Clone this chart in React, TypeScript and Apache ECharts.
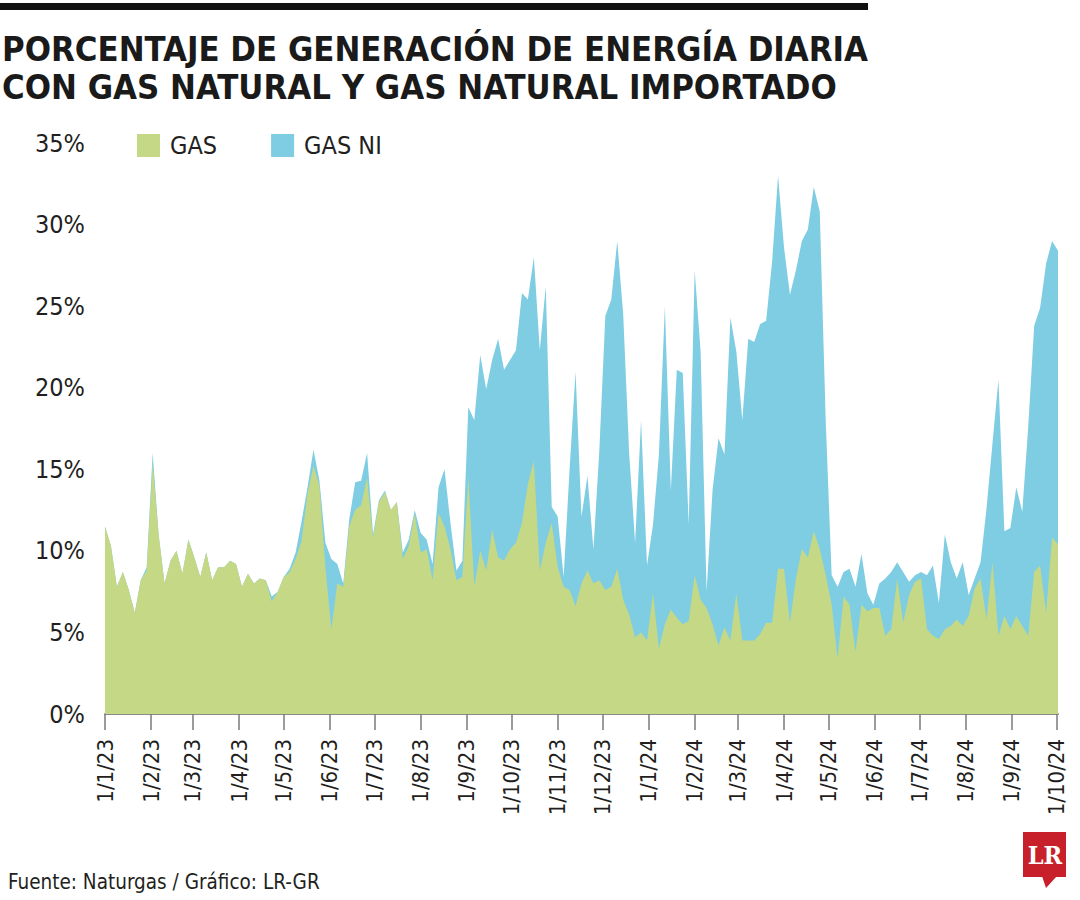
import React, { useEffect, useRef } from "react";
import * as echarts from "echarts";

// Sampling grid: every 4 days from 1 Jan 2023 (x = days since start)
const START = new Date(2023, 0, 1).getTime();
const DAY = 86400000;
const STEP_DAYS = 4;
const LAST_DAY = 640;

// % of daily generation with natural gas (domestic)
const GAS = [
  11.5, 10.3, 7.8, 8.7, 7.6, 6.2, 8.2, 8.8, 15.4, 11.0,
  8.0, 9.4, 10.0, 8.6, 10.7, 9.6, 8.4, 9.9, 8.2, 9.0,
  9.0, 9.4, 9.2, 7.8, 8.6, 8.0, 8.3, 8.2, 6.9, 7.5,
  8.4, 8.7, 9.5, 10.6, 13.5, 15.2, 14.0, 9.0, 5.2, 8.0,
  7.8, 11.5, 12.5, 12.8, 14.5, 10.8, 13.0, 13.6, 12.5, 13.0,
  9.5, 10.3, 12.3, 9.9, 10.1, 8.2, 12.3, 11.5, 10.1, 8.2,
  8.4, 14.5, 7.8, 10.0, 8.8, 11.3, 9.6, 9.4, 10.1, 10.5,
  11.7, 14.1, 15.5, 8.8, 10.5, 11.7, 9.0, 7.8, 7.6, 6.6,
  8.0, 8.8, 8.0, 8.2, 7.6, 7.8, 8.9, 7.0, 6.1, 4.7,
  5.0, 4.5, 7.4, 4.0, 5.5, 6.4, 5.9, 5.5, 5.7, 8.5,
  7.0, 6.5, 5.5, 4.2, 5.3, 4.5, 7.4, 4.5, 4.5, 4.5,
  4.9, 5.6, 5.6, 8.9, 8.9, 5.6, 8.3, 10.1, 9.6, 11.2,
  10.1, 8.5, 6.7, 3.4, 7.2, 6.7, 3.8, 6.7, 6.3, 6.5,
  6.5, 4.8, 5.2, 8.3, 5.6, 7.3, 8.1, 8.3, 5.2, 4.8,
  4.6, 5.2, 5.4, 5.8, 5.4, 6.0, 7.7, 8.3, 5.8, 9.3,
  4.8, 6.0, 5.2, 6.0, 5.4, 4.8, 8.7, 9.1, 6.2, 10.8,
  10.4,
];

// % of daily generation with imported natural gas (stacked on top of GAS)
const GAS_NI = [
  0, 0, 0, 0, 0, 0, 0, 0.2, 0.6, 0,
  0, 0, 0, 0, 0, 0, 0, 0, 0, 0,
  0, 0, 0, 0, 0, 0, 0, 0, 0.3, 0,
  0, 0.2, 0.4, 1.2, 0.4, 1.0, 0.3, 1.5, 4.3, 1.2,
  0.2, 0.4, 1.7, 1.5, 1.5, 0.2, 0.1, 0.1, 0, 0,
  0.4, 0.4, 0.2, 1.2, 0.6, 1.0, 1.6, 3.5, 1.6, 0.6,
  1.0, 4.3, 10.2, 12.0, 11.1, 10.4, 13.4, 11.7, 11.6, 11.8,
  14.1, 11.3, 12.5, 13.5, 15.7, 1.0, 3.1, 0.6, 7.4, 14.4,
  4.1, 5.8, 2.1, 8.0, 16.8, 17.6, 20.1, 17.5, 9.9, 5.8,
  13.0, 4.6, 4.2, 11.9, 19.5, 7.3, 15.2, 15.4, 5.9, 18.7,
  15.2, 1.0, 8.2, 12.7, 10.6, 19.8, 14.8, 13.5, 18.5, 18.3,
  19.0, 18.5, 22.1, 24.1, 19.7, 20.1, 18.9, 18.9, 20.1, 21.1,
  20.7, 9.5, 1.8, 4.4, 1.5, 2.2, 4.0, 3.1, 1.1, 0.2,
  1.5, 3.5, 3.5, 1.0, 3.1, 0.8, 0.4, 0.4, 3.3, 4.3,
  2.2, 5.8, 3.9, 2.5, 3.9, 1.3, 0.6, 1.0, 6.8, 7.3,
  15.7, 5.2, 6.2, 7.9, 7.0, 12.8, 15.1, 15.8, 21.4, 18.2,
  18.0,
];

const MONTH_TICKS = [
  "2023-01-01", "2023-02-01", "2023-03-01", "2023-04-01", "2023-05-01", "2023-06-01",
  "2023-07-01", "2023-08-01", "2023-09-01", "2023-10-01", "2023-11-01", "2023-12-01",
  "2024-01-01", "2024-02-01", "2024-03-01", "2024-04-01", "2024-05-01", "2024-06-01",
  "2024-07-01", "2024-08-01", "2024-09-01", "2024-10-01",
];

const Y_TICKS = [0, 5, 10, 15, 20, 25, 30, 35];

const TITLE = "PORCENTAJE DE GENERACIÓN DE ENERGÍA DIARIA\nCON GAS NATURAL Y GAS NATURAL IMPORTADO";
const SOURCE = "Fuente: Naturgas / Gráfico: LR-GR";
const SERIES_NAMES = ["GAS", "GAS NI"];

const GREEN = "#c5d886";
const BLUE = "#7ecde3";
const NARROW = "'Liberation Sans Narrow', 'DejaVu Sans Condensed', 'Roboto', sans-serif";

function dayIndex(s: string) {
  const [y, m, d] = s.split("-").map(Number);
  return Math.round((new Date(y, m - 1, d).getTime() - START) / DAY);
}

function dayLabel(v: number) {
  const d = new Date(START + Math.round(v) * DAY + 12 * 3600000);
  return `${d.getDate()}/${d.getMonth() + 1}/${String(d.getFullYear()).slice(2)}`;
}

export default function App() {
  const ref = useRef<HTMLDivElement>(null);

  useEffect(() => {
    if (!ref.current) return;
    const chart = echarts.init(ref.current, null, { renderer: "svg" });
    const days = GAS.map((_, i) => i * STEP_DAYS);
    const tickDays = MONTH_TICKS.map(dayIndex);
    // stacked top of the imported-gas layer (GAS + GAS NI)
    const stackedTop = GAS.map((g, i) => Math.round((g + GAS_NI[i]) * 10) / 10);

    chart.setOption({
      animation: false,
      backgroundColor: "#ffffff",
      title: {
        text: TITLE,
        left: 2,
        top: 30,
        padding: 0,
        textStyle: {
          fontFamily: NARROW,
          fontWeight: "bold",
          fontSize: 34.4,
          lineHeight: 38,
          color: "#1a1a1a",
        },
      },
      legend: {
        left: 137,
        top: 133,
        padding: 0,
        icon: "rect",
        itemWidth: 23,
        itemHeight: 23,
        itemGap: 54,
        data: SERIES_NAMES,
        textStyle: { fontFamily: NARROW, fontSize: 25, color: "#231f20", padding: [0, 0, 0, 5] },
      },
      grid: { left: 105, right: 22, top: 143, bottom: 186, containLabel: false },
      xAxis: {
        type: "value",
        min: 0,
        max: LAST_DAY,
        axisLine: { show: true, lineStyle: { color: "#8a8a8a", width: 2 } },
        axisTick: { show: true, customValues: tickDays, length: 16, lineStyle: { color: "#7a7a7a", width: 1.5 } },
        axisLabel: {
          customValues: tickDays,
          rotate: 90,
          margin: 25,
          fontFamily: NARROW,
          fontSize: 22,
          color: "#231f20",
          formatter: (v: number) => dayLabel(v),
        },
        splitLine: { show: false },
      },
      yAxis: {
        type: "value",
        min: Y_TICKS[0],
        max: Y_TICKS[Y_TICKS.length - 1],
        interval: 5,
        axisLine: { show: false },
        axisTick: { show: false },
        splitLine: { show: false },
        axisLabel: {
          formatter: "{value}%",
          margin: 20,
          fontFamily: NARROW,
          fontSize: 25,
          color: "#231f20",
        },
      },
      series: [
        {
          name: SERIES_NAMES[1],
          type: "line",
          data: stackedTop.map((v, i) => [days[i], v]),
          showSymbol: false,
          lineStyle: { width: 0 },
          areaStyle: { color: BLUE, opacity: 1 },
          itemStyle: { color: BLUE },
          z: 2,
        },
        {
          name: SERIES_NAMES[0],
          type: "line",
          data: GAS.map((v, i) => [days[i], v]),
          showSymbol: false,
          lineStyle: { width: 0 },
          areaStyle: { color: GREEN, opacity: 1 },
          itemStyle: { color: GREEN },
          z: 3,
        },
      ],
      graphic: [
        { type: "rect", shape: { x: 0, y: 3, width: 868, height: 7 }, style: { fill: "#111111" } },
        {
          type: "text",
          x: 8,
          y: 871,
          style: { text: SOURCE, fontFamily: NARROW, fontSize: 20.5, fill: "#231f20" },
        },
        { type: "rect", shape: { x: 1023, y: 832, width: 43, height: 45 }, style: { fill: "#c8202a" } },
        {
          type: "polygon",
          shape: { points: [[1042, 876], [1057, 876], [1046, 888]] },
          style: { fill: "#c8202a" },
        },
        {
          type: "text",
          x: 1045,
          y: 855,
          style: {
            text: "LR",
            fontFamily: "'DejaVu Serif Condensed', 'Liberation Serif', serif",
            fontWeight: "bold",
            fontSize: 25,
            fill: "#ffffff",
            align: "center",
            verticalAlign: "middle",
          },
        },
      ],
    });

    return () => chart.dispose();
  }, []);

  return (
    <div
      ref={ref}
      style={{ position: "absolute", left: 0, top: 0, width: 1080, height: 900, background: "#fff" }}
    />
  );
}
